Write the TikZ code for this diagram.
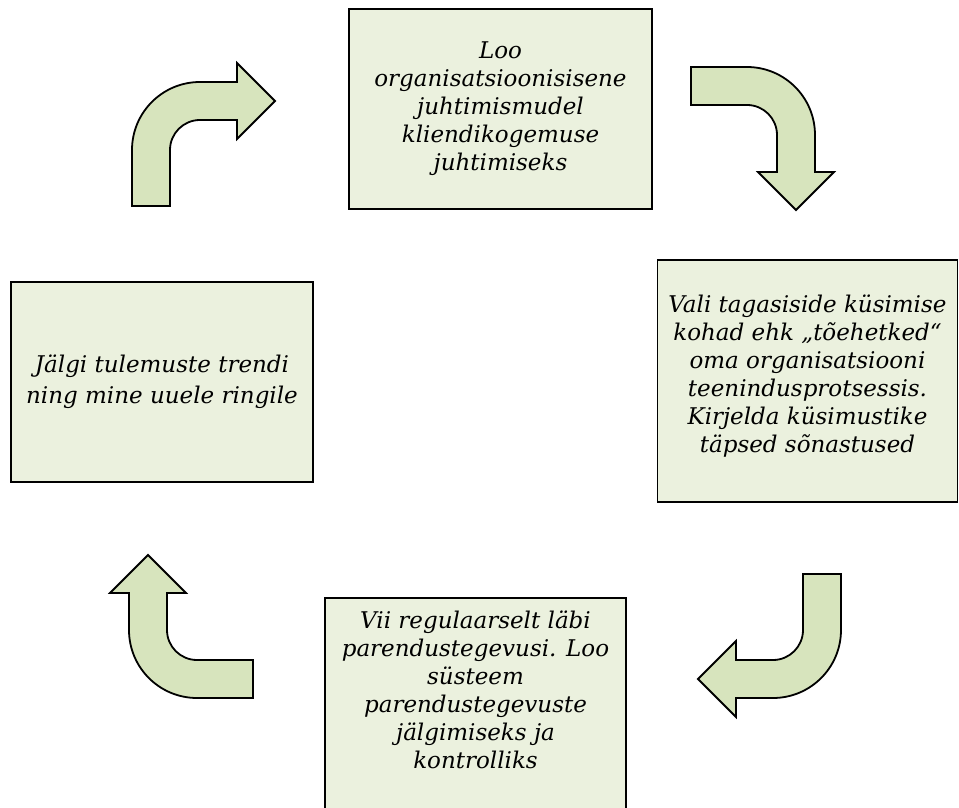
\documentclass[tikz,border=0pt]{standalone}
\usepackage{fontspec}
\setmainfont{DejaVu Serif}
\definecolor{boxfill}{HTML}{EBF1DE}
\definecolor{arrowfill}{HTML}{D7E4BD}
\begin{document}
\begin{tikzpicture}[x=1pt,y=1pt,
  box/.style={draw=black, line width=1.8pt, fill=boxfill, inner sep=0pt},
  txt/.style={align=center, font=\itshape\fontsize{23}{28}\selectfont},
  barrow/.style={draw=black, line width=1.8pt, fill=arrowfill, line join=miter}]
\useasboundingbox (0,0) rectangle (959,807);
\clip (0,0) rectangle (959,807);

% boxes
\node[box, txt, minimum width=303, minimum height=200] (topbox) at (500.5,698)
  {Loo\\organisatsioonisisene\\juhtimismudel\\kliendikogemuse\\juhtimiseks};
\node[box, minimum width=300, minimum height=242] (rightbox) at (807.5,426) {};
\node[txt] (righttext) at (807.5,431)
  {Vali tagasiside küsimise\\kohad ehk „tõehetked“\\oma organisatsiooni\\teenindusprotsessis.\\Kirjelda küsimustike\\täpsed sõnastused};
\node[box, minimum width=302, minimum height=200] (leftbox) at (162,425) {};
\node[txt, font=\itshape\fontsize{23}{31}\selectfont] (lefttext) at (162,425)
  {Jälgi tulemuste trendi\\ning mine uuele ringile};
\node[box, minimum width=301, minimum height=240, anchor=north] (bottombox) at (475.5,210) {};
\node[txt] (bottomtext) at (475.5,117)
  {Vii regulaarselt läbi\\parendustegevusi. Loo\\süsteem\\parendustegevuste\\jälgimiseks ja\\kontrolliks};

% bent arrows
\foreach \cx/\cy/\rot in {200/657/0, 747/672/-90, 773/177/180, 197/177/90}{
  \draw[barrow, shift={(\cx,\cy)}, rotate=\rot]
    (-68,-56) -- (-30,-56) -- (-30,0) arc[start angle=180,end angle=90,radius=30]
    -- (37,30) -- (37,11) -- (75,49) -- (37,87) -- (37,68) -- (0,68)
    arc[start angle=90,end angle=180,radius=68] -- cycle;
}
\end{tikzpicture}
\end{document}
